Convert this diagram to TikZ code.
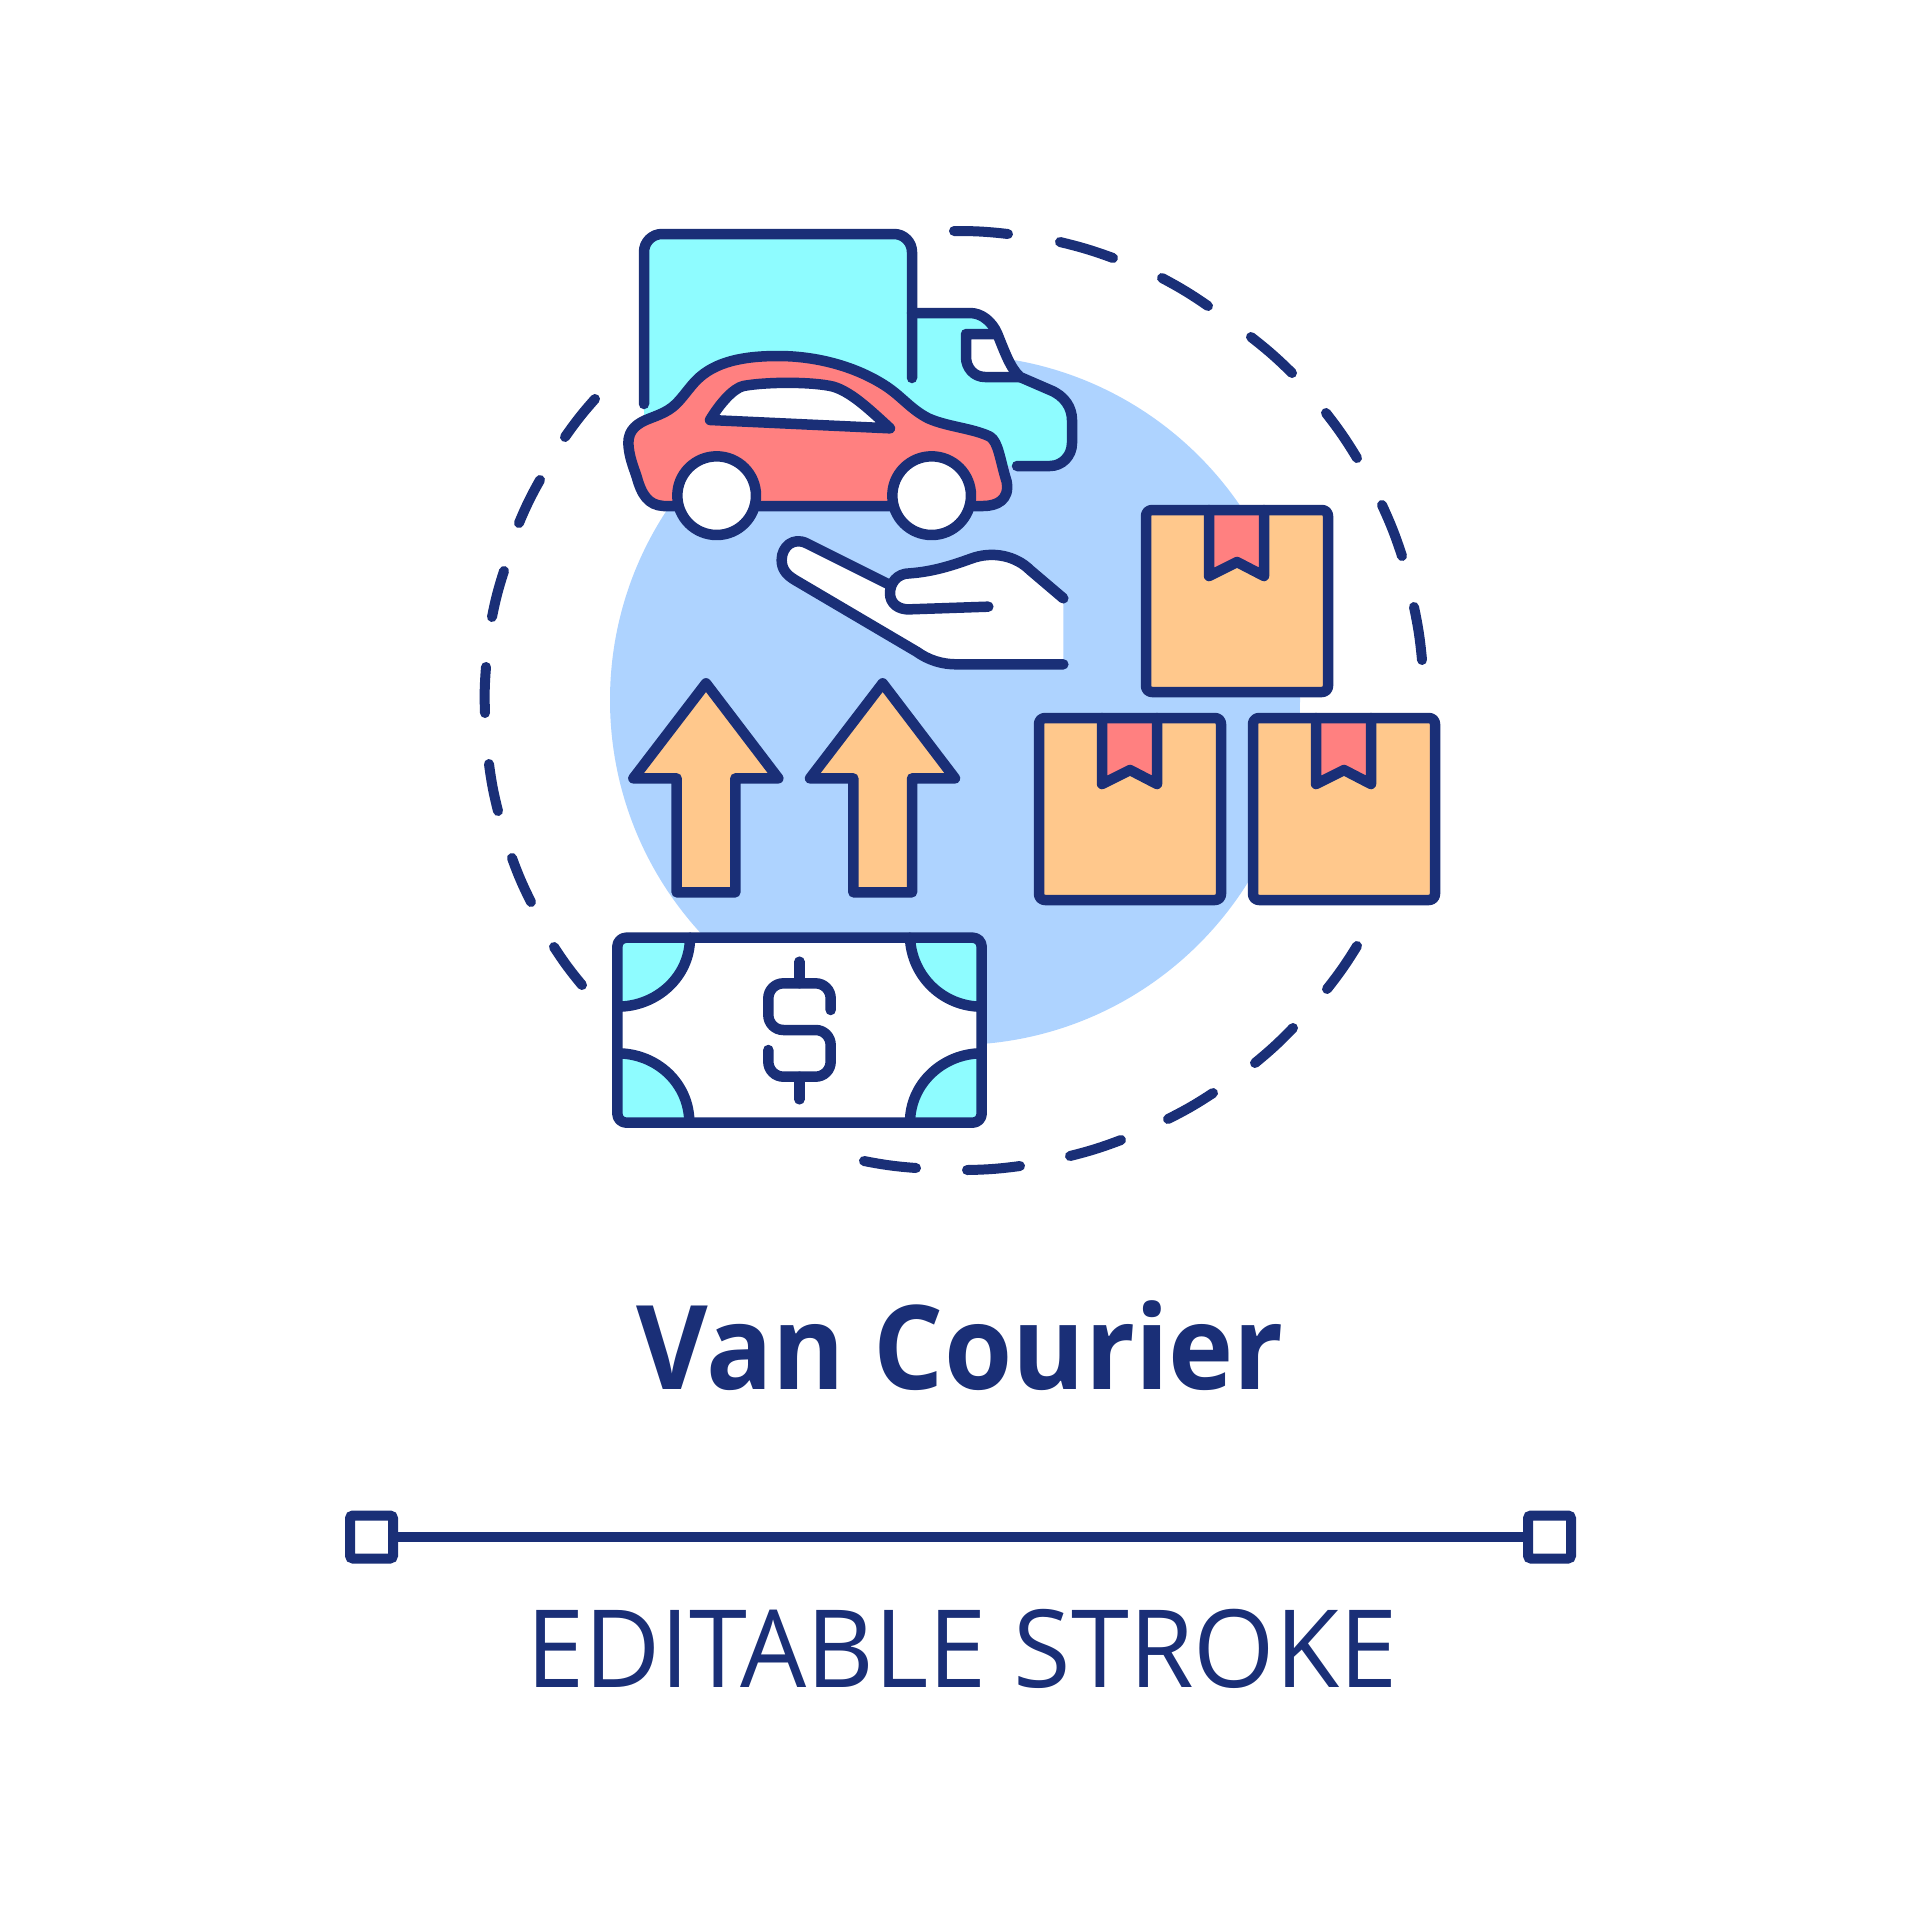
\documentclass[tikz,border=0pt]{standalone}
\usepackage{fontspec}
\setmainfont{Open Sans}
\definecolor{navy}{HTML}{1A2F77}
\definecolor{cy}{HTML}{8EFCFF}
\definecolor{rd}{HTML}{FF8080}
\definecolor{og}{HTML}{FFC88C}
\definecolor{bl}{HTML}{AED3FF}
\tikzset{
  ln/.style={draw=navy,line width=10.5pt,line cap=round,line join=round},
  dashseg/.style={navy,line width=10pt,line cap=round},
  titletxt/.style={anchor=base,text=navy,inner sep=0pt,font=\bfseries\fontsize{117}{120}\selectfont},
  subtxt/.style={anchor=base,text=navy,inner sep=0pt,font=\fontsize{108}{112}\selectfont},
  rulerbox/.style={draw=navy,fill=white,line width=10pt,minimum size=43pt,inner sep=0pt,outer sep=0pt,rounded corners=3pt},
  zoomA/.style={shift={(600,210)},scale=0.33333},
  zoomB/.style={shift={(600,660)},scale=0.33333},
}
\newcommand{\parcel}[2]{%
  \fill[og,rounded corners=6pt] (#1,#2) rectangle ++(182,182);
  \draw[ln,fill=rd] (#1+63,#2) -- (#1+63,#2+66) -- (#1+91,#2+52) -- (#1+118,#2+66) -- (#1+118,#2);
  \draw[ln,rounded corners=6pt] (#1,#2) rectangle ++(182,182);
}
\begin{document}
\begin{tikzpicture}[x=1pt,y=-1pt]
\useasboundingbox (0,0) rectangle (1920,1920);
\fill[white] (0,0) rectangle (1920,1920);
\fill[bl] (955,700) circle[radius=345];
% dashed ring
\foreach \a/\b/\c/\d in {954/231/1008/234,1060/242/1113/258,1162/278/1208/306,1251/337/1292/373,1326/413/1357/458,1382/505/1402/556,1414/607/1422/660,1357/946/1327/989,1293/1028/1255/1063,1213/1093/1168/1119,1121/1140/1070/1156,1020/1166/967/1170,916/1168/864/1161,582/985/554/947,531/902/512/858,498/811/489/764,485/713/486/667,492/617/504/571,519/523/540/480,565/437/595/399}
  \draw[dashseg] (\a,\b) to[bend left=3.3] (\c,\d);
% truck
\fill[cy,rounded corners=18pt] (644,445) -- (644,234) -- (912,234) -- (912,445) -- cycle;
\fill[cy] (912,313) -- (970,313) .. controls (982,313) and (992,322) .. (997,333) .. controls (1004,350) and (1010,368) .. (1020,377) -- (1050,390) .. controls (1065,396) and (1072,408) .. (1072,420) -- (1072,443) .. controls (1072,456) and (1062,466) .. (1050,466) -- (912,466) -- cycle;
\draw[ln,rounded corners=18pt] (644,404) -- (644,234) -- (912,234) -- (912,378);
\fill[white] (997,334) -- (966,334) -- (966,357) .. controls (966,368) and (974,377) .. (985,377) -- (1020,377) .. controls (1010,368) and (1004,350) .. (997,334) -- cycle;
\draw[ln] (997,334) -- (966,334) -- (966,357) .. controls (966,368) and (974,377) .. (985,377) -- (1020,377);
\draw[ln] (912,313) -- (970,313) .. controls (982,313) and (992,322) .. (997,333) .. controls (1004,350) and (1010,368) .. (1020,377) -- (1050,390) .. controls (1065,396) and (1072,408) .. (1072,420) -- (1072,443) .. controls (1072,456) and (1062,466) .. (1050,466) -- (1017,466);
% car
\begin{scope}[zoomA]
\draw[ln,fill=rd] (225,888) -- (190,888) .. controls (145,885) and (125,855) .. (110,800) .. controls (100,770) and (87,740) .. (85,700) .. controls (85,660) and (110,640) .. (150,625) .. controls (190,610) and (210,600) .. (230,580) .. controls (250,560) and (270,530) .. (290,510) .. controls (345,455) and (430,438) .. (535,438) .. controls (650,438) and (770,470) .. (860,530) .. controls (905,560) and (935,600) .. (985,625) .. controls (1040,650) and (1120,655) .. (1170,680) .. controls (1195,695) and (1200,750) .. (1220,815) .. controls (1230,870) and (1190,888) .. (1150,888) -- cycle;
\draw[ln,fill=white] (330,630) -- (870,655) .. controls (800,590) and (750,545) .. (700,530) .. controls (640,515) and (500,515) .. (430,528) .. controls (400,535) and (360,580) .. (330,630) -- cycle;
\draw[ln,fill=white] (350,857) circle[radius=118];
\draw[ln,fill=white] (995,857) circle[radius=118];
% hand
\fill[white] (860,1120) -- (620,1000) .. controls (580,980) and (545,1010) .. (545,1050) .. controls (545,1078) and (560,1095) .. (585,1110) -- (950,1325) .. controls (985,1350) and (1025,1363) .. (1070,1363) -- (1390,1363) -- (1390,1165) -- (1290,1080) .. controls (1250,1040) and (1180,1020) .. (1110,1047) .. controls (1060,1065) and (1000,1085) .. (930,1090) -- cycle;
\draw[ln] (860,1120) -- (620,1000) .. controls (580,980) and (545,1010) .. (545,1050) .. controls (545,1078) and (560,1095) .. (585,1110) -- (950,1325) .. controls (985,1350) and (1025,1363) .. (1070,1363) -- (1390,1363);
\draw[ln] (1390,1165) -- (1290,1080) .. controls (1250,1040) and (1180,1020) .. (1110,1047) .. controls (1060,1065) and (1000,1085) .. (930,1090) .. controls (890,1090) and (870,1120) .. (870,1150) .. controls (870,1180) and (895,1200) .. (930,1198) -- (1165,1190);
\end{scope}
% parcels
\parcel{1146}{510}
\parcel{1039}{718}
\parcel{1253}{718}
% arrows and bill
\begin{scope}[zoomB]
\foreach \s in {0,530}
  \draw[ln,fill=og] (318+\s,70) -- (100+\s,355) -- (230+\s,355) -- (230+\s,697) -- (406+\s,697) -- (406+\s,355) -- (535+\s,355) -- cycle;
\fill[white,rounded corners=8pt] (52,833) rectangle (1145,1388);
\fill[cy] (52,860) -- (52,1040) .. controls (170,1040) and (270,950) .. (270,833) -- (80,833) -- cycle;
\fill[cy] (1145,860) -- (1145,1040) .. controls (1030,1040) and (935,950) .. (930,833) -- (1120,833) -- cycle;
\fill[cy] (52,1360) -- (52,1180) .. controls (170,1180) and (268,1270) .. (268,1388) -- (80,1388) -- cycle;
\fill[cy] (1145,1360) -- (1145,1180) .. controls (1030,1180) and (930,1270) .. (930,1388) -- (1120,1388) -- cycle;
\draw[ln] (270,833) .. controls (270,950) and (170,1040) .. (52,1040);
\draw[ln] (930,833) .. controls (935,950) and (1030,1040) .. (1145,1040);
\draw[ln] (52,1180) .. controls (170,1180) and (268,1270) .. (268,1388);
\draw[ln] (1145,1180) .. controls (1030,1180) and (930,1270) .. (930,1388);
\draw[ln,rounded corners=9pt] (52,833) rectangle (1145,1388);
\draw[ln] (598,905) -- (598,970);
\draw[ln] (598,1250) -- (598,1318);
\draw[ln,rounded corners=15pt] (692,1050) -- (692,970) -- (505,970) -- (505,1110) -- (692,1110) -- (692,1250) -- (505,1250) -- (505,1170);
\end{scope}
% text
\node[titletxt] (title) at (960.5,1389) {\scalebox{0.943}[1]{Van Courier}};
\node[subtxt] (sub) at (962,1687) {\scalebox{0.968}[1]{EDITABLE STROKE}};
% ruler
\node[rulerbox] (ra) at (371.5,1537) {};
\node[rulerbox] (rb) at (1549.5,1537) {};
\draw[navy,line width=9.5pt] (ra) -- (rb);
\end{tikzpicture}
\end{document}
